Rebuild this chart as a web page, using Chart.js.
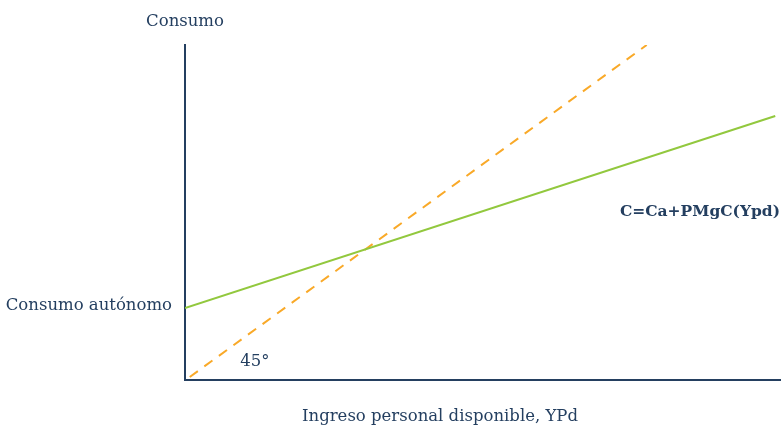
<!DOCTYPE html>
<html>
<head>
<meta charset="utf-8">
<script src="https://cdn.jsdelivr.net/npm/chart.js@4"></script>
<style>
  html, body { margin: 0; padding: 0; background: #ffffff; }
  #wrap { width: 783px; height: 427px; }
</style>
</head>
<body>
<div id="wrap"><canvas id="grafico"></canvas></div>
<script>
// Datos (escala 0-100 en ambos ejes)
const consumoX = [0, 99.2];
const consumoY = [21.5, 78.8];
const linea45X = [0.8, 77.6];
const linea45Y = [0.9, 100];

// Textos
const tituloY = 'Consumo';
const tituloX = 'Ingreso personal disponible, YPd';
const etiquetaCa = 'Consumo autónomo';
const etiquetaFuncion = 'C=Ca+PMgC(Ypd)';
const etiquetaAngulo = '45°';

const colorTexto = '#243f60';
const fuente = '"DejaVu Serif", serif';

function puntos(xs, ys) {
    return xs.map((x, i) => ({ x: x, y: ys[i] }));
}

// Plugin para escribir los textos del gráfico
const textosPlugin = {
    id: 'textos',
    afterDraw(chart) {
        const ctx = chart.ctx;
        const xs = chart.scales.x;
        const ys = chart.scales.y;
        ctx.save();
        ctx.fillStyle = colorTexto;
        ctx.textBaseline = 'middle';

        ctx.font = '16.5px ' + fuente;
        ctx.textAlign = 'center';
        ctx.fillText(tituloY, xs.left, 22);
        ctx.fillText(tituloX, 440, 417);

        ctx.textAlign = 'right';
        ctx.fillText(etiquetaCa, xs.left - 13, ys.getPixelForValue(consumoY[0]) - 2);

        ctx.textAlign = 'left';
        ctx.fillText(etiquetaAngulo, xs.getPixelForValue(9.3), ys.getPixelForValue(5.4));

        ctx.font = 'bold 15.5px ' + fuente;
        ctx.textAlign = 'right';
        ctx.fillText(etiquetaFuncion, 780, ys.getPixelForValue(50.2));
        ctx.restore();
    }
};

new Chart(document.getElementById('grafico'), {
    type: 'scatter',
    data: {
        datasets: [
            {
                label: 'Consumo',
                data: puntos(consumoX, consumoY),
                showLine: true,
                borderColor: '#92c83e',
                borderWidth: 2,
                pointRadius: 0
            },
            {
                label: '45',
                data: puntos(linea45X, linea45Y),
                showLine: true,
                borderColor: '#f9a928',
                borderWidth: 2,
                borderDash: [10, 8],
                pointRadius: 0
            }
        ]
    },
    options: {
        responsive: true,
        maintainAspectRatio: false,
        animation: false,
        layout: { padding: { left: 177, top: 45, right: 3, bottom: 39 } },
        plugins: {
            legend: { display: false },
            tooltip: { enabled: false }
        },
        scales: {
            x: {
                type: 'linear', min: 0, max: 100,
                grid: { display: false },
                ticks: { display: false },
                border: { display: true, color: colorTexto, width: 2 }
            },
            y: {
                type: 'linear', min: 0, max: 100,
                grid: { display: false },
                ticks: { display: false },
                border: { display: true, color: colorTexto, width: 2 }
            }
        }
    },
    plugins: [textosPlugin]
});
</script>
</body>
</html>
